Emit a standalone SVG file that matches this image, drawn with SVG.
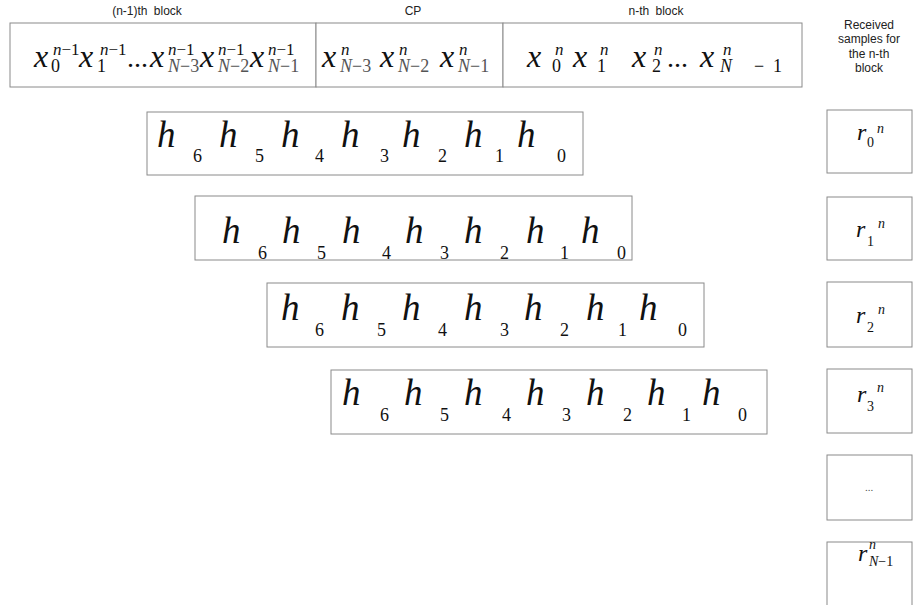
<svg xmlns="http://www.w3.org/2000/svg" width="918" height="605" viewBox="0 0 918 605">
  <style>
    .box { fill: #ffffff; stroke: #8a8a8a; stroke-width: 1; }
    .lbl { font-family: "Liberation Sans", Arial, sans-serif; font-size: 12px; fill: #222; text-anchor: middle; }
    .mx { font-family: "Liberation Serif", "Times New Roman", serif; font-style: italic; font-size: 32px; fill: #111; }
    .sc { font-family: "Liberation Serif", "Times New Roman", serif; font-style: normal; font-size: 18px; fill: #111; }
    .si { font-family: "Liberation Serif", "Times New Roman", serif; font-style: italic; font-size: 17px; fill: #111; }
    .sn { font-family: "Liberation Serif", "Times New Roman", serif; font-style: italic; font-size: 18px; fill: #555; }
    .up { font-style: normal; }
    .dim { fill: #555; }
    .h { font-family: "Liberation Serif", "Times New Roman", serif; font-style: italic; font-size: 37px; fill: #111; }
    .d { font-family: "Liberation Serif", "Times New Roman", serif; font-style: normal; font-size: 18px; fill: #111; }
    .r { font-family: "Liberation Serif", "Times New Roman", serif; font-style: italic; font-size: 24px; fill: #111; }
    .rs { font-family: "Liberation Serif", "Times New Roman", serif; font-style: normal; font-size: 14px; fill: #111; }
    .rsi { font-family: "Liberation Serif", "Times New Roman", serif; font-style: italic; font-size: 14px; fill: #111; }
  </style>

  <!-- block captions -->
  <g id="captions">
    <text class="lbl" x="147" y="15" word-spacing="3">(n-1)th block</text>
    <text class="lbl" x="413" y="15">CP</text>
    <text class="lbl" x="656" y="15" word-spacing="3">n-th block</text>
    <text class="lbl" x="869" y="29">Received</text>
    <text class="lbl" x="869" y="43">samples for</text>
    <text class="lbl" x="869" y="58">the n-th</text>
    <text class="lbl" x="869" y="72">block</text>
  </g>

  <!-- transmitted stream: previous block, cyclic prefix, current block -->
  <g id="prev-block">
    <rect class="box" x="10" y="23" width="306" height="64"/>
    <text class="mx" x="34" y="67">x</text>
    <text class="sc" x="51" y="72">0</text>
    <text class="si" x="53" y="55">n<tspan class="up">−1</tspan></text>
    <text class="mx" x="79" y="67">x</text>
    <text class="sc" x="97" y="72">1</text>
    <text class="si" x="100" y="55">n<tspan class="up">−1</tspan></text>
    <text class="sc" x="127" y="67" style="font-size:28px">...</text>
    <text class="mx" x="150" y="67">x</text>
    <text class="sn" x="168" y="72">N<tspan class="up">−3</tspan></text>
    <text class="si" x="168" y="55">n<tspan class="up">−1</tspan></text>
    <text class="mx" x="200" y="67">x</text>
    <text class="sn" x="218" y="72">N<tspan class="up">−2</tspan></text>
    <text class="si" x="218" y="55">n<tspan class="up">−1</tspan></text>
    <text class="mx" x="250" y="67">x</text>
    <text class="sn" x="268" y="72">N<tspan class="up">−1</tspan></text>
    <text class="si" x="268" y="55">n<tspan class="up">−1</tspan></text>
  </g>

  <g id="cp-block">
    <rect class="box" x="316" y="23" width="187" height="64"/>
    <text class="mx" x="322" y="67">x</text>
    <text class="si" x="341" y="55">n</text>
    <text class="sn" x="340" y="72">N<tspan class="up">−3</tspan></text>
    <text class="mx" x="380" y="67">x</text>
    <text class="si" x="399" y="55">n</text>
    <text class="sn" x="398" y="72">N<tspan class="up">−2</tspan></text>
    <text class="mx" x="440" y="67">x</text>
    <text class="si" x="459" y="55">n</text>
    <text class="sn" x="458" y="72">N<tspan class="up">−1</tspan></text>
  </g>

  <g id="cur-block">
    <rect class="box" x="503" y="23" width="299" height="64"/>
    <text class="mx" x="527" y="67">x</text>
    <text class="si" x="555" y="55">n</text>
    <text class="sc" x="552" y="72">0</text>
    <text class="mx" x="573" y="67">x</text>
    <text class="si" x="600" y="55">n</text>
    <text class="sc" x="597" y="72">1</text>
    <text class="mx" x="632" y="67">x</text>
    <text class="si" x="654" y="55">n</text>
    <text class="sc" x="652" y="72">2</text>
    <text class="sc" x="667" y="67" style="font-size:28px">...</text>
    <text class="mx" x="700" y="67">x</text>
    <text class="si" x="723" y="55">n</text>
    <text class="si" x="720" y="72" style="font-size:18px">N</text>
    <text class="sc" x="754" y="72">−</text>
    <text class="sc" x="773" y="72">1</text>
  </g>

  <!-- channel taps, shifted one sample per row -->
  <g id="taps-0">
    <rect class="box" x="147" y="112" width="436" height="63"/>
    <text class="h" x="157" y="147">h</text><text class="d" x="193" y="162">6</text>
    <text class="h" x="219" y="147">h</text><text class="d" x="255" y="162">5</text>
    <text class="h" x="281" y="147">h</text><text class="d" x="315" y="162">4</text>
    <text class="h" x="341" y="147">h</text><text class="d" x="380" y="162">3</text>
    <text class="h" x="402" y="147">h</text><text class="d" x="438" y="162">2</text>
    <text class="h" x="464" y="147">h</text><text class="d" x="495" y="162">1</text>
    <text class="h" x="517" y="147">h</text><text class="d" x="557" y="162">0</text>
  </g>

  <g id="taps-1">
    <rect class="box" x="195" y="196" width="437" height="64"/>
    <text class="h" x="222" y="243">h</text><text class="d" x="258" y="259">6</text>
    <text class="h" x="282" y="243">h</text><text class="d" x="317" y="259">5</text>
    <text class="h" x="342" y="243">h</text><text class="d" x="382" y="259">4</text>
    <text class="h" x="405" y="243">h</text><text class="d" x="440" y="259">3</text>
    <text class="h" x="464" y="243">h</text><text class="d" x="500" y="259">2</text>
    <text class="h" x="526" y="243">h</text><text class="d" x="560" y="259">1</text>
    <text class="h" x="581" y="243">h</text><text class="d" x="617" y="259">0</text>
  </g>

  <g id="taps-2">
    <rect class="box" x="267" y="283" width="437" height="64"/>
    <text class="h" x="281" y="320">h</text><text class="d" x="315" y="336">6</text>
    <text class="h" x="341" y="320">h</text><text class="d" x="377" y="336">5</text>
    <text class="h" x="402" y="320">h</text><text class="d" x="438" y="336">4</text>
    <text class="h" x="464" y="320">h</text><text class="d" x="500" y="336">3</text>
    <text class="h" x="524" y="320">h</text><text class="d" x="560" y="336">2</text>
    <text class="h" x="586" y="320">h</text><text class="d" x="618" y="336">1</text>
    <text class="h" x="639" y="320">h</text><text class="d" x="678" y="336">0</text>
  </g>

  <g id="taps-3">
    <rect class="box" x="331" y="370" width="436" height="64"/>
    <text class="h" x="342" y="405">h</text><text class="d" x="380" y="421">6</text>
    <text class="h" x="404" y="405">h</text><text class="d" x="440" y="421">5</text>
    <text class="h" x="464" y="405">h</text><text class="d" x="502" y="421">4</text>
    <text class="h" x="526" y="405">h</text><text class="d" x="562" y="421">3</text>
    <text class="h" x="586" y="405">h</text><text class="d" x="623" y="421">2</text>
    <text class="h" x="647" y="405">h</text><text class="d" x="682" y="421">1</text>
    <text class="h" x="702" y="405">h</text><text class="d" x="738" y="421">0</text>
  </g>

  <!-- received samples column -->
  <g id="rx-0">
    <rect class="box" x="827" y="110" width="85" height="63"/>
    <text class="r" x="857" y="140">r</text>
    <text class="rs" x="867" y="147">0</text>
    <text class="rsi" x="877" y="133">n</text>
  </g>
  <g id="rx-1">
    <rect class="box" x="827" y="197" width="85" height="63"/>
    <text class="r" x="856" y="237">r</text>
    <text class="rs" x="867" y="246">1</text>
    <text class="rsi" x="878" y="228">n</text>
  </g>
  <g id="rx-2">
    <rect class="box" x="827" y="282" width="85" height="65"/>
    <text class="r" x="856" y="323">r</text>
    <text class="rs" x="867" y="332">2</text>
    <text class="rsi" x="878" y="314">n</text>
  </g>
  <g id="rx-3">
    <rect class="box" x="827" y="369" width="85" height="64"/>
    <text class="r" x="857" y="402">r</text>
    <text class="rs" x="867" y="411">3</text>
    <text class="rsi" x="877" y="392">n</text>
  </g>
  <g id="rx-dots">
    <rect class="box" x="827" y="455" width="85" height="65"/>
    <text class="rs" x="869" y="491" style="font-size:11px;fill:#555" text-anchor="middle">...</text>
  </g>
  <g id="rx-last">
    <rect class="box" x="827" y="542" width="85" height="70"/>
    <text class="r" x="858" y="561">r</text>
    <text class="rsi" x="869" y="549">n</text>
    <text class="rsi" x="869" y="566">N<tspan class="up">−1</tspan></text>
  </g>

  <!-- no connectors in this figure -->
  <g id="connectors"/>
</svg>
